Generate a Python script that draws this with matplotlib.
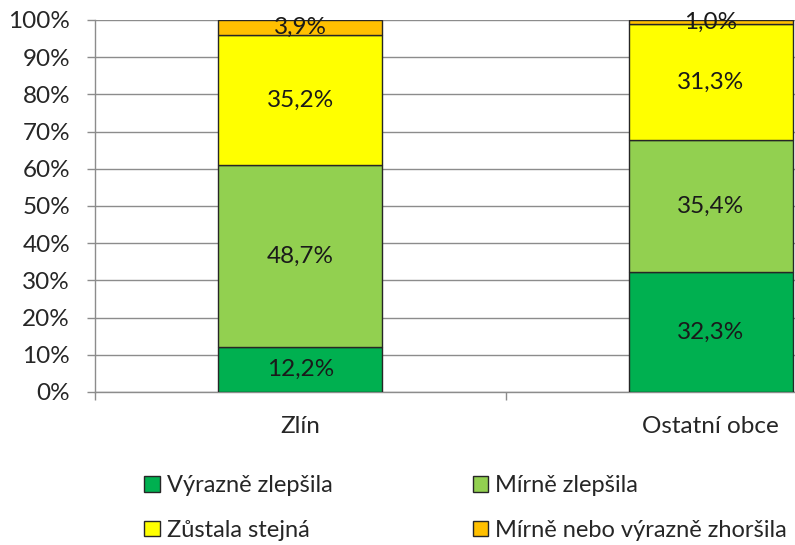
import numpy as np
import matplotlib
matplotlib.use('Agg')
import matplotlib.pyplot as plt
from matplotlib.ticker import PercentFormatter

plt.rcParams['font.family'] = ['Lato', 'DejaVu Sans']

categories = ['Zlín', 'Ostatní obce']
series = ['Výrazně zlepšila', 'Mírně zlepšila', 'Zůstala stejná', 'Mírně nebo výrazně zhoršila']
values = [
	[12.2, 32.3],	# Výrazně zlepšila
	[48.7, 35.4],	# Mírně zlepšila
	[35.2, 31.3],	# Zůstala stejná
	[3.9, 1.0],		# Mírně nebo výrazně zhoršila
]
colors = ['#00B050', '#92D050', '#FFFF00', '#FFC000']

fig = plt.figure(figsize=(7.95, 5.45), dpi=100)
ax = fig.add_axes([95/795, 1 - 392/545, (916 - 95)/795, (392 - 20)/545])

x = np.arange(len(categories))
bottom = np.zeros(len(categories))
for i, s in enumerate(series):
	vals = np.array(values[i])
	ax.bar(x, vals, 0.40, bottom=bottom, color=colors[i], edgecolor='#262626',
		   linewidth=1.0, label=s, zorder=3)
	for xi, v, b0 in zip(x, vals, bottom):
		lbl = ('%.1f%%' % v).replace('.', ',')
		ax.text(xi, b0 + v/2, lbl, ha='center', va='center', fontsize=17.5, color='#1a1a1a', zorder=4)
	bottom += vals

ax.set_xlim(-0.5, 1.5)
ax.set_ylim(0, 100)
ax.set_yticks(np.arange(0, 101, 10))
ax.yaxis.set_major_formatter(PercentFormatter(decimals=0))
ax.set_xticks(x)
ax.set_xticklabels(categories)
ax.set_xticks([-0.5, 0.5, 1.5], minor=True)
ax.tick_params(axis='x', which='major', length=0, pad=17, labelsize=17.5, labelcolor='#262626')
ax.tick_params(axis='x', which='minor', length=6, color='#8c8c8c', width=1)
ax.tick_params(axis='y', length=6, color='#8c8c8c', width=1, pad=12, labelsize=17.5, labelcolor='#262626')
ax.grid(axis='y', color='#8c8c8c', linewidth=1, zorder=0)
for sp in ['top', 'right']:
	ax.spines[sp].set_visible(False)
for sp in ['left', 'bottom']:
	ax.spines[sp].set_color('#8c8c8c')
	ax.spines[sp].set_linewidth(1)

# legend filled row by row
handles, labels = ax.get_legend_handles_labels()
order = [0, 2, 1, 3]
leg = fig.legend([handles[k] for k in order], [labels[k] for k in order], ncol=2, loc='upper left',
				 bbox_to_anchor=(123/795, 1 - 454/545), frameon=False, fontsize=17,
				 handlelength=0.65, handleheight=0.65, handletextpad=0.3,
				 columnspacing=5.95, labelspacing=1.0, labelcolor='#262626')

fig.savefig('out.png', dpi=100)
